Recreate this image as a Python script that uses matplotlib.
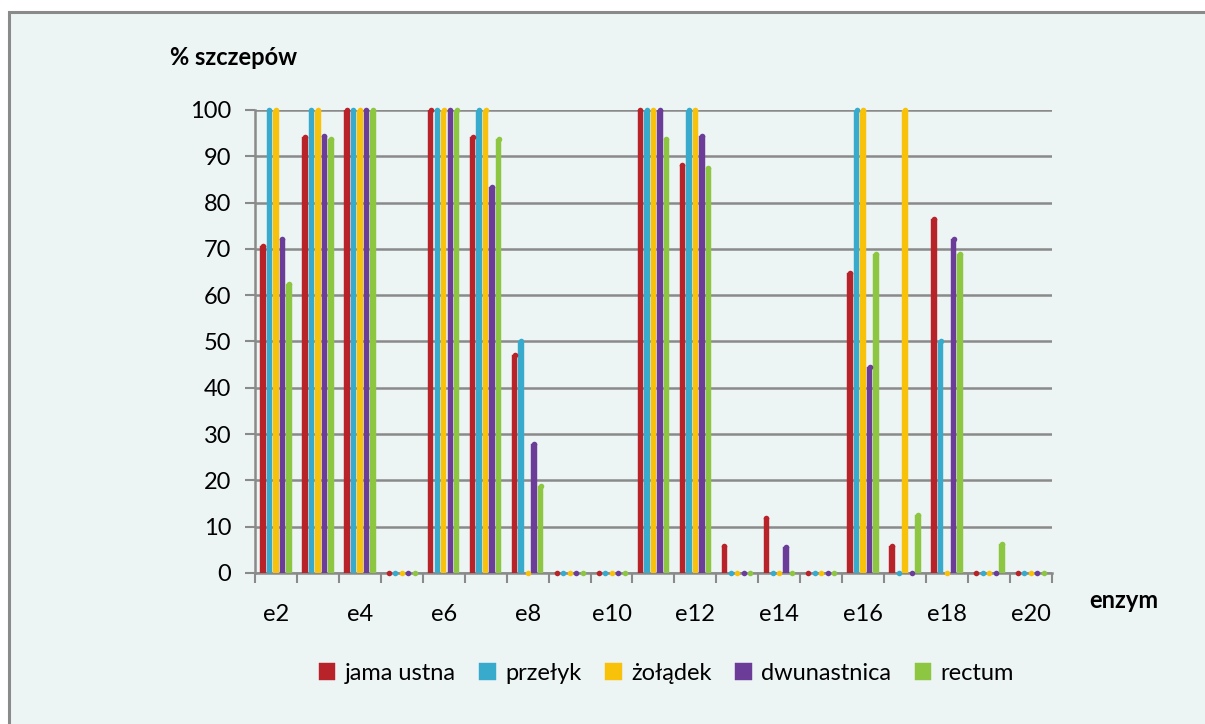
import numpy as np
import matplotlib.pyplot as plt
from matplotlib.patches import Rectangle

plt.rcParams['font.family'] = ['Lato', 'DejaVu Sans']

enzymy = ['e%d' % i for i in range(2, 21)]
serie = ['jama ustna', 'przełyk', 'żołądek', 'dwunastnica', 'rectum']
kolory = ['#B8232A', '#38AACB', '#F9C20A', '#6B3C98', '#8DC641']

jama_ustna = [70.6, 94.1, 100, 0, 100, 94.1, 47.1, 0, 0, 100, 88.2, 5.9, 11.8, 0, 64.7, 5.9, 76.5, 0, 0]
przelyk = [100, 100, 100, 0, 100, 100, 50, 0, 0, 100, 100, 0, 0, 0, 100, 0, 50, 0, 0]
zoladek = [100, 100, 100, 0, 100, 100, 0, 0, 0, 100, 100, 0, 0, 0, 100, 100, 0, 0, 0]
dwunastnica = [72.2, 94.4, 100, 0, 100, 83.3, 27.8, 0, 0, 100, 94.4, 0, 5.6, 0, 44.4, 0, 72.2, 0, 0]
rectum = [62.5, 93.8, 100, 0, 100, 93.8, 18.8, 0, 0, 93.8, 87.5, 0, 0, 0, 68.8, 12.5, 68.8, 6.3, 0]
wartosci = [jama_ustna, przelyk, zoladek, dwunastnica, rectum]

fig = plt.figure(figsize=(12.05, 7.24), dpi=100)
# tlo wykresu z ramka (tylko lewa i gorna krawedz w kadrze)
fig.patches.append(Rectangle((0.0075, -0.1), 1.3, 1.084, transform=fig.transFigure,
                             facecolor='#ECF4F4', edgecolor='#8A8A8A', linewidth=2.2, zorder=-10))

ax = fig.add_axes([0.2116, 0.2086, 0.6614, 0.6395])
ax.set_facecolor('none')

x = np.arange(len(enzymy))
krok = 0.155
szer = 0.13
for k, (nazwa, kol, vals) in enumerate(zip(serie, kolory, wartosci)):
    pos = x + (k - 2) * krok
    ax.bar(pos, vals, width=szer, color=kol, edgecolor=kol, linewidth=0.3,
           label=nazwa, zorder=3)
    # zaokraglone wierzcholki slupkow
    ax.scatter(pos, vals, s=16, marker='o', color=kol, linewidths=0, zorder=4, clip_on=False)

ax.set_xlim(-0.5, len(enzymy) - 0.5)
ax.set_ylim(0, 100)
ax.set_yticks(range(0, 101, 10))
ax.tick_params(axis='y', length=7, width=1.5, color='#8A8A8A', pad=10, labelsize=17)
ax.yaxis.grid(True, color='#8A8A8A', linewidth=1.8, zorder=0)
ax.set_axisbelow(True)

ax.set_xticks(np.arange(-0.5, len(enzymy)), minor=False)
ax.set_xticklabels([])
ax.set_xticks(x[::2], minor=True)
ax.set_xticklabels(enzymy[::2], minor=True)
ax.tick_params(axis='x', which='major', length=7, width=1.5, color='#8A8A8A')
ax.tick_params(axis='x', which='minor', length=0, pad=22, labelsize=17)

for s in ['top', 'right']:
    ax.spines[s].set_visible(False)
for s in ['left', 'bottom']:
    ax.spines[s].set_color('#8A8A8A')
    ax.spines[s].set_linewidth(1.8)

fig.text(0.141, 0.921, '% szczepów', fontsize=17, fontweight='bold', va='center', ha='left')
fig.text(0.904, 0.171, 'enzym', fontsize=17, fontweight='bold', va='center', ha='left')

leg = fig.legend(loc='center', bbox_to_anchor=(0.553, 0.07), ncol=5, frameon=False,
                 fontsize=17, handlelength=0.7, handleheight=0.7, handletextpad=0.4,
                 columnspacing=1.0)

fig.savefig('out.png', dpi=100)
